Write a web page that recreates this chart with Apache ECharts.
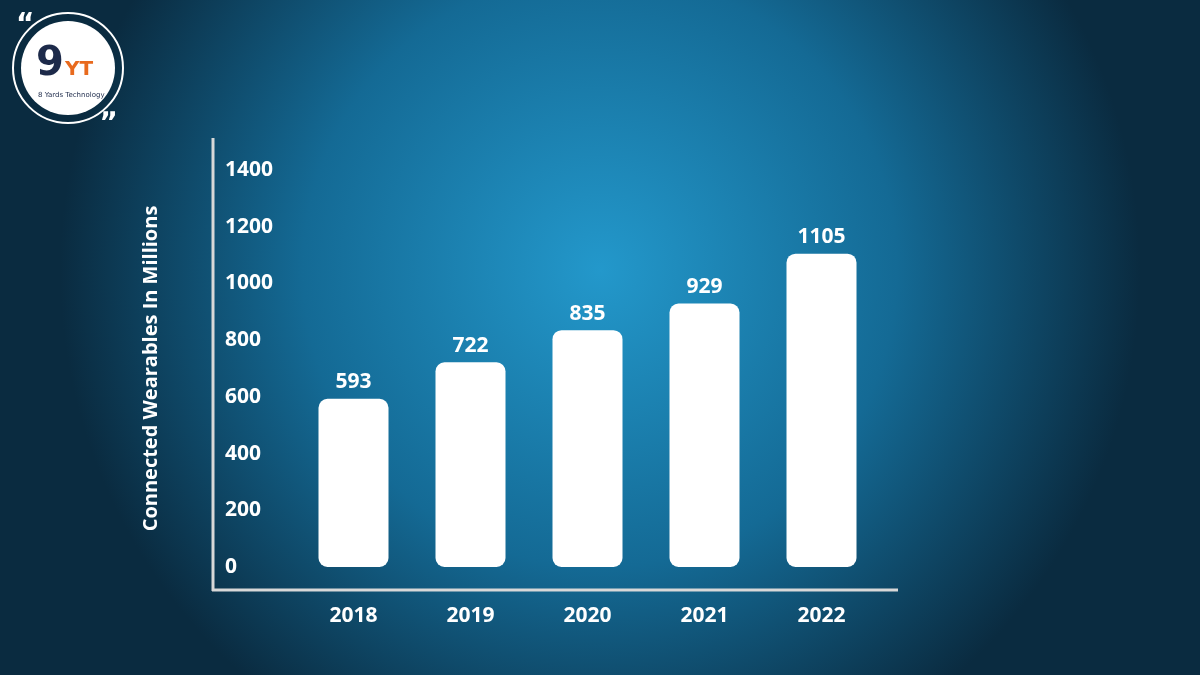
<!DOCTYPE html>
<html><head><meta charset="utf-8">
<script src="https://cdn.jsdelivr.net/npm/echarts@6/dist/echarts.min.js"></script>
<style>html,body{margin:0;padding:0;}#c{width:1200px;height:675px;}</style>
</head><body><div id="c"></div>
<script>
const categories = ['2018','2019','2020','2021','2022'];
const values = [593, 722, 835, 929, 1105];
const yTicks = [0,200,400,600,800,1000,1200,1400];

const chart = echarts.init(document.getElementById('c'));
chart.setOption({
  backgroundColor: {
    type: 'radial', x: 0.5, y: 0.4, r: 0.8,
    colorStops: [{offset:0,color:'#2398cb'},{offset:0.55,color:'#146a95'},{offset:1,color:'#0a2b40'}]
  },
  textStyle: {fontFamily: 'Open Sans'},
  grid: {left: 295, right: 320, top: 170, bottom: 108},
  xAxis: {
    type: 'category', data: categories, offset: 23,
    axisLine: {show: false}, axisTick: {show: false},
    axisLabel: {color: '#fff', fontSize: 21, fontWeight: 'bold', margin: 16}
  },
  yAxis: {
    type: 'value', min: 0, max: 1400, interval: 200, offset: 82,
    name: 'Connected Wearables In Millions', nameLocation: 'middle', nameGap: 52,
    nameTextStyle: {color:'#fff', fontSize: 20, fontWeight:'bold'},
    splitLine: {show: false}, axisLine: {show: false}, axisTick: {show: false},
    axisLabel: {inside: true, margin: 12, color: '#fff', fontSize: 21, fontWeight: 'bold', align: 'left',
      formatter: v => String(v)}
  },
  series: [{
    type: 'bar', data: values, barWidth: 70,
    itemStyle: {color: '#fff', borderRadius: 9},
    label: {show: true, position: 'top', color: '#fff', fontSize: 21, fontWeight: 'bold', distance: 6}
  }],
  graphic: [
    {type:'line', shape:{x1:213,y1:138,x2:213,y2:591}, style:{stroke:'#d8d8d8', lineWidth:3}},
    {type:'line', shape:{x1:212,y1:590,x2:898,y2:590}, style:{stroke:'#d8d8d8', lineWidth:3}},
    {type:'circle', shape:{cx:68,cy:68,r:55}, style:{fill:'none', stroke:'#fff', lineWidth:2}},
    {type:'circle', shape:{cx:68,cy:68,r:47}, style:{fill:'#fff'}},
    {type:'text', x:36, y:45, style:{text:'9', fill:'#1d2a4a', font:'bold 40px "DejaVu Sans"'}},
    {type:'text', x:65, y:60, style:{text:'YT', fill:'#e86a1e', font:'bold 20px "DejaVu Sans"'}},
    {type:'text', x:38, y:92, style:{text:'8 Yards Technology', fill:'#1d2a4a', font:'7px "DejaVu Sans"'}},
    {type:'text', x:16, y:12, style:{text:'“', fill:'#fff', font:'bold 28px "DejaVu Sans"'}},
    {type:'text', x:100, y:96, style:{text:'„', fill:'#fff', font:'bold 28px "DejaVu Sans"'}}
  ]
});
</script></body></html>
